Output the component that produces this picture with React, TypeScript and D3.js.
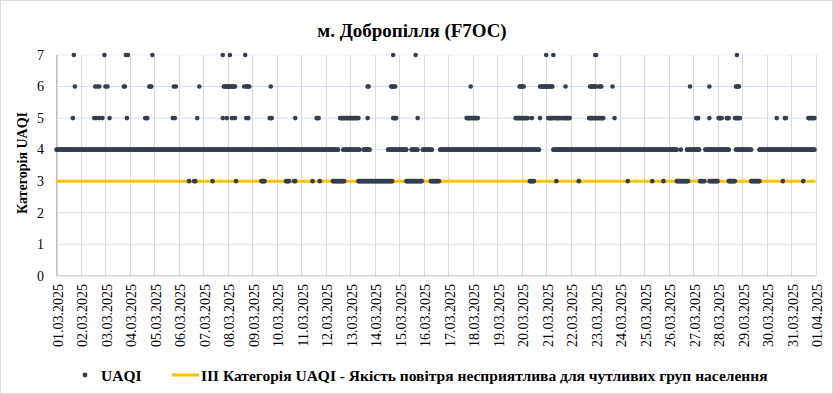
import React from "react";
import * as d3 from "d3";

const width = 833;
const height = 394;
const plot = { left: 56.5, right: 815.5, top: 55, bottom: 275.8 };

const title = "м. Добропілля (F7OC)";
const yTitle = "Категорія UAQI";
const legendDots = "UAQI";
const legendLine = "III Категорія UAQI - Якість повітря несприятлива для чутливих груп населення";

const dayLabels = [
  "01.03.2025", "02.03.2025", "03.03.2025", "04.03.2025", "05.03.2025", "06.03.2025",
  "07.03.2025", "08.03.2025", "09.03.2025", "10.03.2025", "11.03.2025", "12.03.2025",
  "13.03.2025", "14.03.2025", "15.03.2025", "16.03.2025", "17.03.2025", "18.03.2025",
  "19.03.2025", "20.03.2025", "21.03.2025", "22.03.2025", "23.03.2025", "24.03.2025",
  "25.03.2025", "26.03.2025", "27.03.2025", "28.03.2025", "29.03.2025", "30.03.2025",
  "31.03.2025", "01.04.2025",
];
const yTicks = [0, 1, 2, 3, 4, 5, 6, 7];
const thresholdLevel = 3;

// hours since 01.03.2025 00:00 at which each category was measured
// a number is a single reading, a pair is a run of hourly readings
type Obs = number | [number, number];
const uaqi4: Obs[] = [
  [0, 276], [281, 297], [301, 307], [325, 343], [348, 354], [359, 368], [376, 473],
  [487, 608], 612, [618, 630], [636, 659], [666, 681], [689, 743],
];
const uaqi3: Obs[] = [
  130, 135, 136, 153, 176, [201, 204], [225, 228], [233, 234], 251, 258, [271, 282],
  [296, 329], [343, 358], [367, 375], [464, 468], 490, 512, 560, 584, 595, [608, 619],
  [631, 635], [640, 648], [659, 665], [681, 689], 712, 732,
];
const uaqi5: Obs[] = [
  16, 37, 39, 42, 45, 52, 69, [87, 89], 114, 116, 138, 163, 167, 172, 175, 186, 188,
  [209, 211], 234, [255, 257], [278, 296], 305, [330, 333], 354, [402, 413], [450, 462],
  466, 474, [482, 487], [489, 494], [496, 503], [522, 536], 547, [627, 629], 640,
  [649, 652], [657, 659], [665, 670], 706, [714, 715], [737, 743],
];
const uaqi6: Obs[] = [
  18, 38, 40, 42, 48, 50, [66, 67], [91, 93], 115, 117, 140, [164, 175], 184, [186, 189],
  210, [305, 306], [328, 332], 406, [454, 458], [474, 486], 499, [523, 529], [532, 534],
  545, 621, 640, [666, 669],
];
const uaqi7: Obs[] = [
  17, 47, 68, 70, 94, 163, 170, 185, 330, 352, 480, 487, [528, 529], 667,
];

const levels: [number, Obs[]][] = [
  [4, uaqi4], [3, uaqi3], [5, uaqi5], [6, uaqi6], [7, uaqi7],
];

const parseDay = d3.utcParse("%d.%m.%Y");
const start = parseDay(dayLabels[0]) as Date;
const end = parseDay(dayLabels[dayLabels.length - 1]) as Date;

const points: { date: Date; value: number }[] = [];
levels.forEach(([value, obs]) => {
  obs.forEach((o) => {
    const [a, b] = typeof o === "number" ? [o, o] : o;
    for (let h = a; h <= b; h++) {
      points.push({ date: d3.utcHour.offset(start, h), value });
    }
  });
});

const serif = "'Liberation Serif', 'Times New Roman', serif";

export default function App() {
  const x = d3.scaleUtc().domain([start, end]).range([plot.left, plot.right]);
  const y = d3.scaleLinear().domain([0, 7]).range([plot.bottom, plot.top]);

  return (
    <svg
      width={width}
      height={height}
      style={{ position: "absolute", left: 0, top: 0, background: "#fff" }}
      fontFamily={serif}
    >
      <rect x={0.5} y={0.5} width={width - 1} height={height - 1} fill="#fff" stroke="#d9d9d9" />

      <text x={412} y={37} textAnchor="middle" fontSize={19} fontWeight="bold">
        {title}
      </text>

      {yTicks.slice(1).map((t) => (
        <line
          key={"h" + t}
          x1={plot.left}
          x2={plot.right}
          y1={y(t)}
          y2={y(t)}
          stroke={t === 7 ? "#eef1f6" : "#d6deee"}
          strokeWidth={1}
        />
      ))}
      {dayLabels.map((d, i) => {
        const xv = Math.round(x(parseDay(d) as Date)) + 0.5;
        return (
          <line key={"v" + i} x1={xv} x2={xv} y1={plot.top} y2={plot.bottom} stroke="#d9d9d9" />
        );
      })}
      <line x1={plot.left} x2={plot.right} y1={plot.bottom} y2={plot.bottom} stroke="#bfbfbf" />
      <line x1={plot.left} x2={plot.left} y1={plot.top} y2={plot.bottom} stroke="#bfbfbf" />

      {yTicks.map((t) => (
        <text key={"yl" + t} x={44} y={y(t) + 4.8} textAnchor="end" fontSize={14}>
          {t}
        </text>
      ))}
      {dayLabels.map((d, i) => {
        const xv = x(parseDay(d) as Date);
        return (
          <text
            key={"xl" + i}
            transform={`translate(${xv + 6.5},284) rotate(-90)`}
            textAnchor="end"
            fontSize={14}
          >
            {d}
          </text>
        );
      })}

      <text transform="translate(27,163) rotate(-90)" textAnchor="middle" fontSize={14} fontWeight="bold">
        {yTitle}
      </text>

      <line
        x1={plot.left}
        x2={plot.right}
        y1={y(thresholdLevel)}
        y2={y(thresholdLevel)}
        stroke="#ffc000"
        strokeWidth={3}
      />

      <g fill="#333f50">
        {points.map((p, i) => (
          <circle key={i} cx={x(p.date)} cy={y(p.value)} r={2.3} />
        ))}
      </g>

      <g fontSize={15.5} fontWeight="bold">
        <circle cx={85} cy={375} r={2.4} fill="#333f50" />
        <text x={101} y={380.5}>{legendDots}</text>
        <line x1={172} x2={199} y1={375} y2={375} stroke="#ffc000" strokeWidth={3} />
        <text x={201} y={380.5}>{legendLine}</text>
      </g>
    </svg>
  );
}
